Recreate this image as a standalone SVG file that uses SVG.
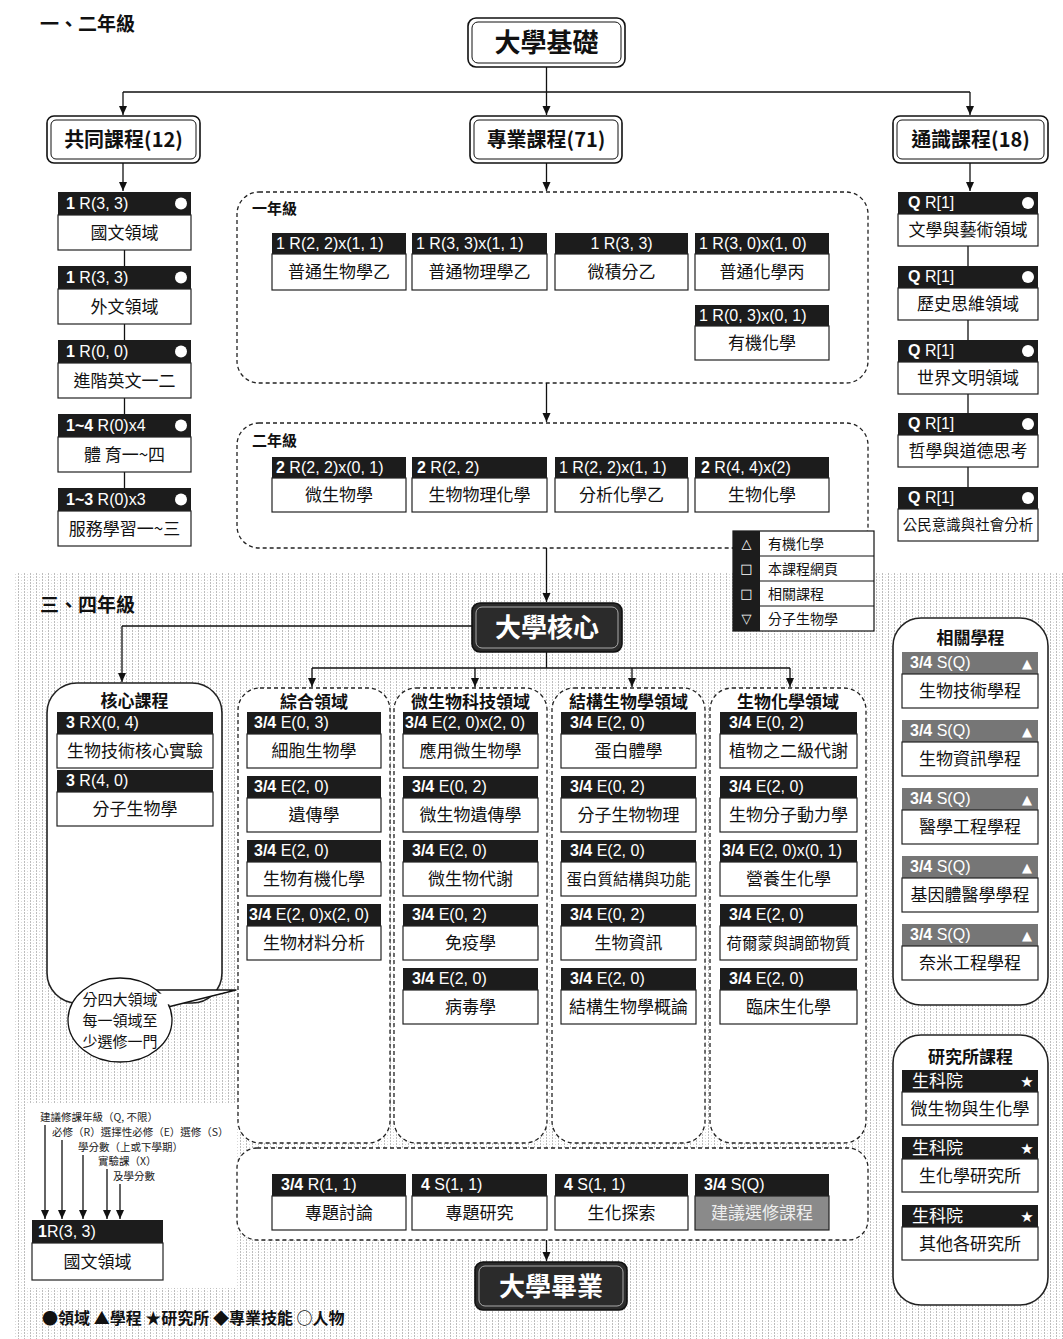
<svg xmlns="http://www.w3.org/2000/svg" width="1063" height="1339" viewBox="0 0 1063 1339">
<defs>
<pattern id="tex" width="6" height="3" patternUnits="userSpaceOnUse">
<rect width="6" height="3" fill="#fff"/>
<rect x="0" y="0" width="1" height="2" fill="#bdbdbd"/>
<rect x="3" y="1" width="1" height="1" fill="#d8d8d8"/>
</pattern>
<marker id="ah" markerWidth="10" markerHeight="10" refX="9" refY="5" orient="auto" markerUnits="userSpaceOnUse">
<path d="M0,1 L9,5 L0,9 z" fill="#111"/>
</marker>
<style>
.hd{fill:#1c1c1c}
.hg{fill:#767676}
.bd{fill:#fff;stroke:#222;stroke-width:1.2}
.ht{font-family:"Liberation Sans",Arial,sans-serif;font-size:16px;fill:#fff}
.b{font-weight:bold}
.bt{font-family:"Noto Sans CJK TC","Noto Sans CJK SC",sans-serif;font-size:17px;fill:#111;text-anchor:middle}
.st{text-anchor:start}
.ttl{font-family:"Noto Sans CJK TC","Noto Sans CJK SC",sans-serif;font-weight:bold;fill:#111}
.cn{stroke:#111;stroke-width:1.3;fill:none}
.ca{stroke:#111;stroke-width:1.3;fill:none;marker-end:url(#ah)}
.dash{fill:#fff;stroke:#222;stroke-width:1.3;stroke-dasharray:4 3}
.solid{fill:#fff;stroke:#222;stroke-width:1.6}
.dot{fill:#fff}
.sym{font-family:"DejaVu Sans",sans-serif;font-size:13px;fill:#fff;text-anchor:middle}
.lg{font-family:"Noto Sans CJK TC","Noto Sans CJK SC",sans-serif;font-size:10.5px;fill:#222}
.ob{fill:#fff;stroke:#111;stroke-width:1.6}
.ib{fill:none;stroke:#111;stroke-width:1}
.wt{fill:#fff}
</style>
</defs>
<rect width="1063" height="1339" fill="#fff"/>
<rect x="15" y="573" width="1048" height="766" fill="url(#tex)"/>
<rect x="25" y="1103" width="210" height="185" fill="#fff"/>

<text class="ttl" x="40" y="31" font-size="19">一、二年級</text>
<text class="ttl" x="40" y="612" font-size="19">三、四年級</text>

<!-- containers -->
<g id="year1"><rect class="dash" x="237" y="192" width="631" height="191" rx="22"/><text class="ttl" x="252" y="214" font-size="15">一年級</text></g>
<g id="year2"><rect class="dash" x="237" y="423" width="631" height="125" rx="22"/><text class="ttl" x="252" y="446" font-size="15">二年級</text></g>

<!-- connectors -->
<g id="connectors">
<path class="cn" d="M546.5,67 V92 M123,92 H970"/>
<path class="ca" d="M123,92 V115"/>
<path class="ca" d="M546.5,92 V115"/>
<path class="ca" d="M970,92 V115"/>
<path class="ca" d="M123,163 V191"/>
<path class="ca" d="M546.5,163 V191"/>
<path class="ca" d="M970,163 V191"/>
<path class="cn" d="M124.5,250 V266 M124.5,324 V340 M124.5,398 V414 M124.5,472 V488"/>
<path class="cn" d="M968,246 V266 M968,320 V340 M968,394 V413 M968,467 V487"/>
<path class="ca" d="M546.5,383 V422"/>
<path class="ca" d="M546.5,548 V602"/>
<path class="cn" d="M472,626 H122"/>
<path class="ca" d="M122,626 V682"/>
<path class="cn" d="M546.5,652 V668 M312,668 H790"/>
<path class="ca" d="M312,668 V687"/>
<path class="ca" d="M475,668 V687"/>
<path class="ca" d="M632,668 V687"/>
<path class="ca" d="M790,668 V687"/>
<path class="ca" d="M546.5,1240 V1261"/>
<path class="ca" d="M45,1125 V1219"/>
<path class="ca" d="M62,1140 V1219"/>
<path class="ca" d="M83,1155 V1219"/>
<path class="ca" d="M107,1169 V1219"/>
<path class="ca" d="M120,1184 V1219"/>
</g>

<!-- top boxes -->
<g id="n-base"><rect class="ob" x="468" y="18" width="157" height="49" rx="8"/><rect class="ib" x="472" y="22" width="149" height="41" rx="6"/><text class="ttl" x="546.5" y="52" font-size="26" text-anchor="middle">大學基礎</text></g>
<g id="n-common"><rect class="ob" x="47" y="116" width="153" height="47" rx="7"/><rect class="ib" x="51" y="120" width="145" height="39" rx="5"/><text class="ttl" x="123.5" y="147" font-size="20" text-anchor="middle">共同課程(12)</text></g>
<g id="n-major"><rect class="ob" x="470" y="116" width="152" height="47" rx="7"/><rect class="ib" x="474" y="120" width="144" height="39" rx="5"/><text class="ttl" x="546" y="147" font-size="20" text-anchor="middle">專業課程(71)</text></g>
<g id="n-general"><rect class="ob" x="893" y="116" width="155" height="47" rx="7"/><rect class="ib" x="897" y="120" width="147" height="39" rx="5"/><text class="ttl" x="970.5" y="147" font-size="20" text-anchor="middle">通識課程(18)</text></g>

<!-- left column -->
<g id="c-l1"><rect class="hd" x="58" y="192" width="133" height="23"/><rect class="bd" x="58" y="215" width="133" height="35"/><text class="ht" x="66" y="209"><tspan class="b">1</tspan> R(3, 3)</text><circle class="dot" cx="181" cy="203.5" r="6"/><text class="bt" x="124.5" y="239">國文領域</text></g>
<g id="c-l2"><rect class="hd" x="58" y="266" width="133" height="23"/><rect class="bd" x="58" y="289" width="133" height="35"/><text class="ht" x="66" y="283"><tspan class="b">1</tspan> R(3, 3)</text><circle class="dot" cx="181" cy="277.5" r="6"/><text class="bt" x="124.5" y="313">外文領域</text></g>
<g id="c-l3"><rect class="hd" x="58" y="340" width="133" height="23"/><rect class="bd" x="58" y="363" width="133" height="35"/><text class="ht" x="66" y="357"><tspan class="b">1</tspan> R(0, 0)</text><circle class="dot" cx="181" cy="351.5" r="6"/><text class="bt" x="124.5" y="387">進階英文一二</text></g>
<g id="c-l4"><rect class="hd" x="58" y="414" width="133" height="23"/><rect class="bd" x="58" y="437" width="133" height="35"/><text class="ht" x="66" y="431"><tspan class="b">1~4</tspan> R(0)x4</text><circle class="dot" cx="181" cy="425.5" r="6"/><text class="bt" x="124.5" y="461">體 育一~四</text></g>
<g id="c-l5"><rect class="hd" x="58" y="488" width="133" height="23"/><rect class="bd" x="58" y="511" width="133" height="35"/><text class="ht" x="66" y="505"><tspan class="b">1~3</tspan> R(0)x3</text><circle class="dot" cx="181" cy="499.5" r="6"/><text class="bt" x="124.5" y="535">服務學習一~三</text></g>

<!-- right column -->
<g id="c-r1"><rect class="hd" x="898" y="192" width="140" height="22"/><rect class="bd" x="898" y="214" width="140" height="32"/><text class="ht" x="908" y="208"><tspan class="b">Q</tspan> R[1]</text><circle class="dot" cx="1028" cy="203" r="6"/><text class="bt" x="968" y="236">文學與藝術領域</text></g>
<g id="c-r2"><rect class="hd" x="898" y="266" width="140" height="22"/><rect class="bd" x="898" y="288" width="140" height="32"/><text class="ht" x="908" y="282"><tspan class="b">Q</tspan> R[1]</text><circle class="dot" cx="1028" cy="277" r="6"/><text class="bt" x="968" y="310">歷史思維領域</text></g>
<g id="c-r3"><rect class="hd" x="898" y="340" width="140" height="22"/><rect class="bd" x="898" y="362" width="140" height="32"/><text class="ht" x="908" y="356"><tspan class="b">Q</tspan> R[1]</text><circle class="dot" cx="1028" cy="351" r="6"/><text class="bt" x="968" y="384">世界文明領域</text></g>
<g id="c-r4"><rect class="hd" x="898" y="413" width="140" height="22"/><rect class="bd" x="898" y="435" width="140" height="32"/><text class="ht" x="908" y="429"><tspan class="b">Q</tspan> R[1]</text><circle class="dot" cx="1028" cy="424" r="6"/><text class="bt" x="968" y="457">哲學與道德思考</text></g>
<g id="c-r5"><rect class="hd" x="898" y="487" width="140" height="22"/><rect class="bd" x="898" y="509" width="140" height="32"/><text class="ht" x="908" y="503"><tspan class="b">Q</tspan> R[1]</text><circle class="dot" cx="1028" cy="498" r="6"/><text class="bt" x="968" y="530" style="font-size:14.5px">公民意識與社會分析</text></g>

<!-- year 1 -->
<g id="c-y1a"><rect class="hd" x="272" y="233" width="134" height="21"/><rect class="bd" x="272" y="254" width="134" height="36"/><text class="ht" x="276" y="249">1 R(2, 2)x(1, 1)</text><text class="bt" x="339" y="278">普通生物學乙</text></g>
<g id="c-y1b"><rect class="hd" x="412" y="233" width="135" height="21"/><rect class="bd" x="412" y="254" width="135" height="36"/><text class="ht" x="416" y="249">1 R(3, 3)x(1, 1)</text><text class="bt" x="479.5" y="278">普通物理學乙</text></g>
<g id="c-y1c"><rect class="hd" x="555" y="233" width="133" height="21"/><rect class="bd" x="555" y="254" width="133" height="36"/><text class="ht" x="621.5" y="249" text-anchor="middle">1 R(3, 3)</text><text class="bt" x="621.5" y="278">微積分乙</text></g>
<g id="c-y1d"><rect class="hd" x="695" y="233" width="134" height="21"/><rect class="bd" x="695" y="254" width="134" height="36"/><text class="ht" x="699" y="249">1 R(3, 0)x(1, 0)</text><text class="bt" x="762" y="278">普通化學丙</text></g>
<g id="c-y1e"><rect class="hd" x="695" y="305" width="134" height="21"/><rect class="bd" x="695" y="326" width="134" height="34"/><text class="ht" x="699" y="321">1 R(0, 3)x(0, 1)</text><text class="bt" x="762" y="349">有機化學</text></g>

<!-- year 2 -->
<g id="c-y2a"><rect class="hd" x="272" y="457" width="134" height="21"/><rect class="bd" x="272" y="478" width="134" height="34"/><text class="ht" x="276" y="473"><tspan class="b">2</tspan> R(2, 2)x(0, 1)</text><text class="bt" x="339" y="501">微生物學</text></g>
<g id="c-y2b"><rect class="hd" x="412" y="457" width="135" height="21"/><rect class="bd" x="412" y="478" width="135" height="34"/><text class="ht" x="417" y="473"><tspan class="b">2</tspan> R(2, 2)</text><text class="bt" x="479.5" y="501">生物物理化學</text></g>
<g id="c-y2c"><rect class="hd" x="555" y="457" width="133" height="21"/><rect class="bd" x="555" y="478" width="133" height="34"/><text class="ht" x="559" y="473">1 R(2, 2)x(1, 1)</text><text class="bt" x="621.5" y="501">分析化學乙</text></g>
<g id="c-y2d"><rect class="hd" x="695" y="457" width="134" height="21"/><rect class="bd" x="695" y="478" width="134" height="34"/><text class="ht" x="701" y="473"><tspan class="b">2</tspan> R(4, 4)x(2)</text><text class="bt" x="762" y="501">生物化學</text></g>

<!-- legend box -->
<g id="n-legendbox">
<rect x="733" y="531" width="141" height="100" fill="#fff" stroke="#111" stroke-width="1.2"/>
<rect x="733" y="531" width="27" height="100" fill="#1c1c1c"/>
<path d="M760,556 H874 M760,581 H874 M760,606 H874" stroke="#111" stroke-width="1"/>
<text class="sym" x="746.5" y="548">△</text><text class="sym" x="746.5" y="573">□</text><text class="sym" x="746.5" y="598">□</text><text class="sym" x="746.5" y="623">▽</text>
<text class="bt st" x="768" y="549" style="font-size:14px">有機化學</text>
<text class="bt st" x="768" y="574" style="font-size:14px">本課程網頁</text>
<text class="bt st" x="768" y="599" style="font-size:14px">相關課程</text>
<text class="bt st" x="768" y="624" style="font-size:14px">分子生物學</text>
</g>

<!-- core -->
<g id="n-univcore"><rect x="472" y="603" width="150" height="49" rx="8" fill="#2b2b2b" stroke="#111" stroke-width="1.6"/><rect x="476" y="607" width="142" height="41" rx="6" fill="none" stroke="#aaa" stroke-width="1"/><text class="ttl wt" x="547" y="637" font-size="26" text-anchor="middle">大學核心</text></g>

<g id="g-core"><rect class="solid" x="47" y="683" width="175" height="320" rx="30"/><text class="ttl" x="134.5" y="707" font-size="17" text-anchor="middle">核心課程</text>
<g id="c-k1"><rect class="hd" x="57" y="712" width="156" height="22"/><rect class="bd" x="57" y="734" width="156" height="34"/><text class="ht" x="66" y="728"><tspan class="b">3</tspan> RX(0, 4)</text><text class="bt" x="135" y="757">生物技術核心實驗</text></g>
<g id="c-k2"><rect class="hd" x="57" y="770" width="156" height="22"/><rect class="bd" x="57" y="792" width="156" height="34"/><text class="ht" x="66" y="786"><tspan class="b">3</tspan> R(4, 0)</text><text class="bt" x="135" y="815">分子生物學</text></g>
</g>

<!-- domains -->
<g id="g-d1"><rect class="dash" x="238" y="688" width="152" height="455" rx="22"/><text class="ttl" x="314" y="708" font-size="17" text-anchor="middle">綜合領域</text>
<g><rect class="hd" x="247" y="712" width="134" height="22"/><rect class="bd" x="247" y="734" width="134" height="34"/><text class="ht" x="254" y="728"><tspan class="b">3/4</tspan> E(0, 3)</text><text class="bt" x="314" y="757">細胞生物學</text></g>
<g><rect class="hd" x="247" y="776" width="134" height="22"/><rect class="bd" x="247" y="798" width="134" height="34"/><text class="ht" x="254" y="792"><tspan class="b">3/4</tspan> E(2, 0)</text><text class="bt" x="314" y="821">遺傳學</text></g>
<g><rect class="hd" x="247" y="840" width="134" height="22"/><rect class="bd" x="247" y="862" width="134" height="34"/><text class="ht" x="254" y="856"><tspan class="b">3/4</tspan> E(2, 0)</text><text class="bt" x="314" y="885">生物有機化學</text></g>
<g><rect class="hd" x="247" y="904" width="134" height="22"/><rect class="bd" x="247" y="926" width="134" height="34"/><text class="ht" x="249" y="920"><tspan class="b">3/4</tspan> E(2, 0)x(2, 0)</text><text class="bt" x="314" y="949">生物材料分析</text></g>
</g>
<g id="g-d2"><rect class="dash" x="394" y="688" width="153" height="455" rx="22"/><text class="ttl" x="470.5" y="708" font-size="17" text-anchor="middle">微生物科技領域</text>
<g><rect class="hd" x="403" y="712" width="135" height="22"/><rect class="bd" x="403" y="734" width="135" height="34"/><text class="ht" x="405" y="728"><tspan class="b">3/4</tspan> E(2, 0)x(2, 0)</text><text class="bt" x="470.5" y="757">應用微生物學</text></g>
<g><rect class="hd" x="403" y="776" width="135" height="22"/><rect class="bd" x="403" y="798" width="135" height="34"/><text class="ht" x="412" y="792"><tspan class="b">3/4</tspan> E(0, 2)</text><text class="bt" x="470.5" y="821">微生物遺傳學</text></g>
<g><rect class="hd" x="403" y="840" width="135" height="22"/><rect class="bd" x="403" y="862" width="135" height="34"/><text class="ht" x="412" y="856"><tspan class="b">3/4</tspan> E(2, 0)</text><text class="bt" x="470.5" y="885">微生物代謝</text></g>
<g><rect class="hd" x="403" y="904" width="135" height="22"/><rect class="bd" x="403" y="926" width="135" height="34"/><text class="ht" x="412" y="920"><tspan class="b">3/4</tspan> E(0, 2)</text><text class="bt" x="470.5" y="949">免疫學</text></g>
<g><rect class="hd" x="403" y="968" width="135" height="22"/><rect class="bd" x="403" y="990" width="135" height="34"/><text class="ht" x="412" y="984"><tspan class="b">3/4</tspan> E(2, 0)</text><text class="bt" x="470.5" y="1013">病毒學</text></g>
</g>
<g id="g-d3"><rect class="dash" x="552" y="688" width="153" height="455" rx="22"/><text class="ttl" x="628.5" y="708" font-size="17" text-anchor="middle">結構生物學領域</text>
<g><rect class="hd" x="561" y="712" width="135" height="22"/><rect class="bd" x="561" y="734" width="135" height="34"/><text class="ht" x="570" y="728"><tspan class="b">3/4</tspan> E(2, 0)</text><text class="bt" x="628.5" y="757">蛋白體學</text></g>
<g><rect class="hd" x="561" y="776" width="135" height="22"/><rect class="bd" x="561" y="798" width="135" height="34"/><text class="ht" x="570" y="792"><tspan class="b">3/4</tspan> E(0, 2)</text><text class="bt" x="628.5" y="821">分子生物物理</text></g>
<g><rect class="hd" x="561" y="840" width="135" height="22"/><rect class="bd" x="561" y="862" width="135" height="34"/><text class="ht" x="570" y="856"><tspan class="b">3/4</tspan> E(2, 0)</text><text class="bt" x="628.5" y="885" style="font-size:15.5px">蛋白質結構與功能</text></g>
<g><rect class="hd" x="561" y="904" width="135" height="22"/><rect class="bd" x="561" y="926" width="135" height="34"/><text class="ht" x="570" y="920"><tspan class="b">3/4</tspan> E(0, 2)</text><text class="bt" x="628.5" y="949">生物資訊</text></g>
<g><rect class="hd" x="561" y="968" width="135" height="22"/><rect class="bd" x="561" y="990" width="135" height="34"/><text class="ht" x="570" y="984"><tspan class="b">3/4</tspan> E(2, 0)</text><text class="bt" x="628.5" y="1013">結構生物學概論</text></g>
</g>
<g id="g-d4"><rect class="dash" x="710" y="688" width="156" height="455" rx="22"/><text class="ttl" x="788" y="708" font-size="17" text-anchor="middle">生物化學領域</text>
<g><rect class="hd" x="720" y="712" width="137" height="22"/><rect class="bd" x="720" y="734" width="137" height="34"/><text class="ht" x="729" y="728"><tspan class="b">3/4</tspan> E(0, 2)</text><text class="bt" x="788.5" y="757">植物之二級代謝</text></g>
<g><rect class="hd" x="720" y="776" width="137" height="22"/><rect class="bd" x="720" y="798" width="137" height="34"/><text class="ht" x="729" y="792"><tspan class="b">3/4</tspan> E(2, 0)</text><text class="bt" x="788.5" y="821">生物分子動力學</text></g>
<g><rect class="hd" x="720" y="840" width="137" height="22"/><rect class="bd" x="720" y="862" width="137" height="34"/><text class="ht" x="722" y="856"><tspan class="b">3/4</tspan> E(2, 0)x(0, 1)</text><text class="bt" x="788.5" y="885">營養生化學</text></g>
<g><rect class="hd" x="720" y="904" width="137" height="22"/><rect class="bd" x="720" y="926" width="137" height="34"/><text class="ht" x="729" y="920"><tspan class="b">3/4</tspan> E(2, 0)</text><text class="bt" x="788.5" y="949" style="font-size:15.5px">荷爾蒙與調節物質</text></g>
<g><rect class="hd" x="720" y="968" width="137" height="22"/><rect class="bd" x="720" y="990" width="137" height="34"/><text class="ht" x="729" y="984"><tspan class="b">3/4</tspan> E(2, 0)</text><text class="bt" x="788.5" y="1013">臨床生化學</text></g>
</g>

<!-- speech bubble -->
<g id="n-bubble">
<path d="M150,990 L236,990 L164,1008 Z" fill="#fff" stroke="#111" stroke-width="1.3" stroke-linejoin="round"/>
<ellipse cx="120" cy="1020" rx="52" ry="42" fill="#fff" stroke="#111" stroke-width="1.3"/>
<path d="M150,994 L228,991 L161,1006 Z" fill="#fff"/>
<text class="bt" x="120" y="1005" style="font-size:15px">分四大領域</text>
<text class="bt" x="120" y="1026" style="font-size:15px">每一領域至</text>
<text class="bt" x="120" y="1047" style="font-size:15px">少選修一門</text>
</g>

<!-- program container -->
<g id="g-prog"><rect class="solid" x="893" y="618" width="155" height="387" rx="28"/><text class="ttl" x="970.5" y="644" font-size="17" text-anchor="middle">相關學程</text>
<g><rect class="hg" x="902" y="652" width="136" height="22"/><rect class="bd" x="902" y="674" width="136" height="34"/><text class="ht" x="910" y="668"><tspan class="b">3/4</tspan> S(Q)</text><text class="sym" x="1027" y="668">▲</text><text class="bt" x="970" y="697">生物技術學程</text></g>
<g><rect class="hg" x="902" y="720" width="136" height="22"/><rect class="bd" x="902" y="742" width="136" height="34"/><text class="ht" x="910" y="736"><tspan class="b">3/4</tspan> S(Q)</text><text class="sym" x="1027" y="736">▲</text><text class="bt" x="970" y="765">生物資訊學程</text></g>
<g><rect class="hg" x="902" y="788" width="136" height="22"/><rect class="bd" x="902" y="810" width="136" height="34"/><text class="ht" x="910" y="804"><tspan class="b">3/4</tspan> S(Q)</text><text class="sym" x="1027" y="804">▲</text><text class="bt" x="970" y="833">醫學工程學程</text></g>
<g><rect class="hg" x="902" y="856" width="136" height="22"/><rect class="bd" x="902" y="878" width="136" height="34"/><text class="ht" x="910" y="872"><tspan class="b">3/4</tspan> S(Q)</text><text class="sym" x="1027" y="872">▲</text><text class="bt" x="970" y="901">基因體醫學學程</text></g>
<g><rect class="hg" x="902" y="924" width="136" height="22"/><rect class="bd" x="902" y="946" width="136" height="34"/><text class="ht" x="910" y="940"><tspan class="b">3/4</tspan> S(Q)</text><text class="sym" x="1027" y="940">▲</text><text class="bt" x="970" y="969">奈米工程學程</text></g>
</g>

<!-- graduate container -->
<g id="g-grad"><rect class="solid" x="893" y="1035" width="155" height="270" rx="28"/><text class="ttl" x="970.5" y="1063" font-size="17" text-anchor="middle">研究所課程</text>
<g><rect class="hd" x="902" y="1070" width="136" height="22"/><rect class="bd" x="902" y="1092" width="136" height="33"/><text class="bt st wt" x="912" y="1087">生科院</text><text class="sym" x="1027" y="1087" style="font-size:15px">★</text><text class="bt" x="970" y="1115">微生物與生化學</text></g>
<g><rect class="hd" x="902" y="1137" width="136" height="22"/><rect class="bd" x="902" y="1159" width="136" height="33"/><text class="bt st wt" x="912" y="1154">生科院</text><text class="sym" x="1027" y="1154" style="font-size:15px">★</text><text class="bt" x="970" y="1182">生化學研究所</text></g>
<g><rect class="hd" x="902" y="1205" width="136" height="22"/><rect class="bd" x="902" y="1227" width="136" height="33"/><text class="bt st wt" x="912" y="1222">生科院</text><text class="sym" x="1027" y="1222" style="font-size:15px">★</text><text class="bt" x="970" y="1250">其他各研究所</text></g>
</g>

<!-- bottom container -->
<g id="g-bottom"><rect class="dash" x="237" y="1148" width="631" height="92" rx="20"/>
<g><rect class="hd" x="272" y="1174" width="134" height="22"/><rect class="bd" x="272" y="1196" width="134" height="34"/><text class="ht" x="281" y="1190"><tspan class="b">3/4</tspan> R(1, 1)</text><text class="bt" x="339" y="1219">專題討論</text></g>
<g><rect class="hd" x="412" y="1174" width="135" height="22"/><rect class="bd" x="412" y="1196" width="135" height="34"/><text class="ht" x="421" y="1190"><tspan class="b">4</tspan> S(1, 1)</text><text class="bt" x="479.5" y="1219">專題研究</text></g>
<g><rect class="hd" x="555" y="1174" width="133" height="22"/><rect class="bd" x="555" y="1196" width="133" height="34"/><text class="ht" x="564" y="1190"><tspan class="b">4</tspan> S(1, 1)</text><text class="bt" x="621.5" y="1219">生化探索</text></g>
<g><rect class="hd" x="695" y="1174" width="134" height="22"/><rect x="695" y="1196" width="134" height="34" fill="#8a8a8a" stroke="#222" stroke-width="1.2"/><text class="ht" x="704" y="1190"><tspan class="b">3/4</tspan> S(Q)</text><text class="bt" x="762" y="1219" style="fill:#eee">建議選修課程</text></g>
</g>

<g id="n-grad"><rect x="475" y="1262" width="152" height="48" rx="8" fill="#2b2b2b" stroke="#111" stroke-width="1.6"/><rect x="479" y="1266" width="144" height="40" rx="6" fill="none" stroke="#aaa" stroke-width="1"/><text class="ttl wt" x="551" y="1296" font-size="26" text-anchor="middle">大學畢業</text></g>

<!-- legend -->
<g id="legend">
<text class="lg" x="40" y="1121">建議修課年級（Q, 不限）</text>
<text class="lg" x="52" y="1136">必修（R）選擇性必修（E）選修（S）</text>
<text class="lg" x="78" y="1151">學分數（上或下學期）</text>
<text class="lg" x="98" y="1165">實驗課（X）</text>
<text class="lg" x="113" y="1180">及學分數</text>
<g id="c-legend"><rect class="hd" x="32" y="1220" width="131" height="23"/><rect class="bd" x="32" y="1243" width="131" height="37"/><text class="ht" x="38" y="1237"><tspan class="b">1</tspan>R(3, 3)</text><text class="bt" x="97.5" y="1268">國文領域</text></g>
<text class="ttl" x="42" y="1324" font-size="16">●領域 ▲學程 ★研究所 ◆專業技能 ○人物</text>
</g>
</svg>
